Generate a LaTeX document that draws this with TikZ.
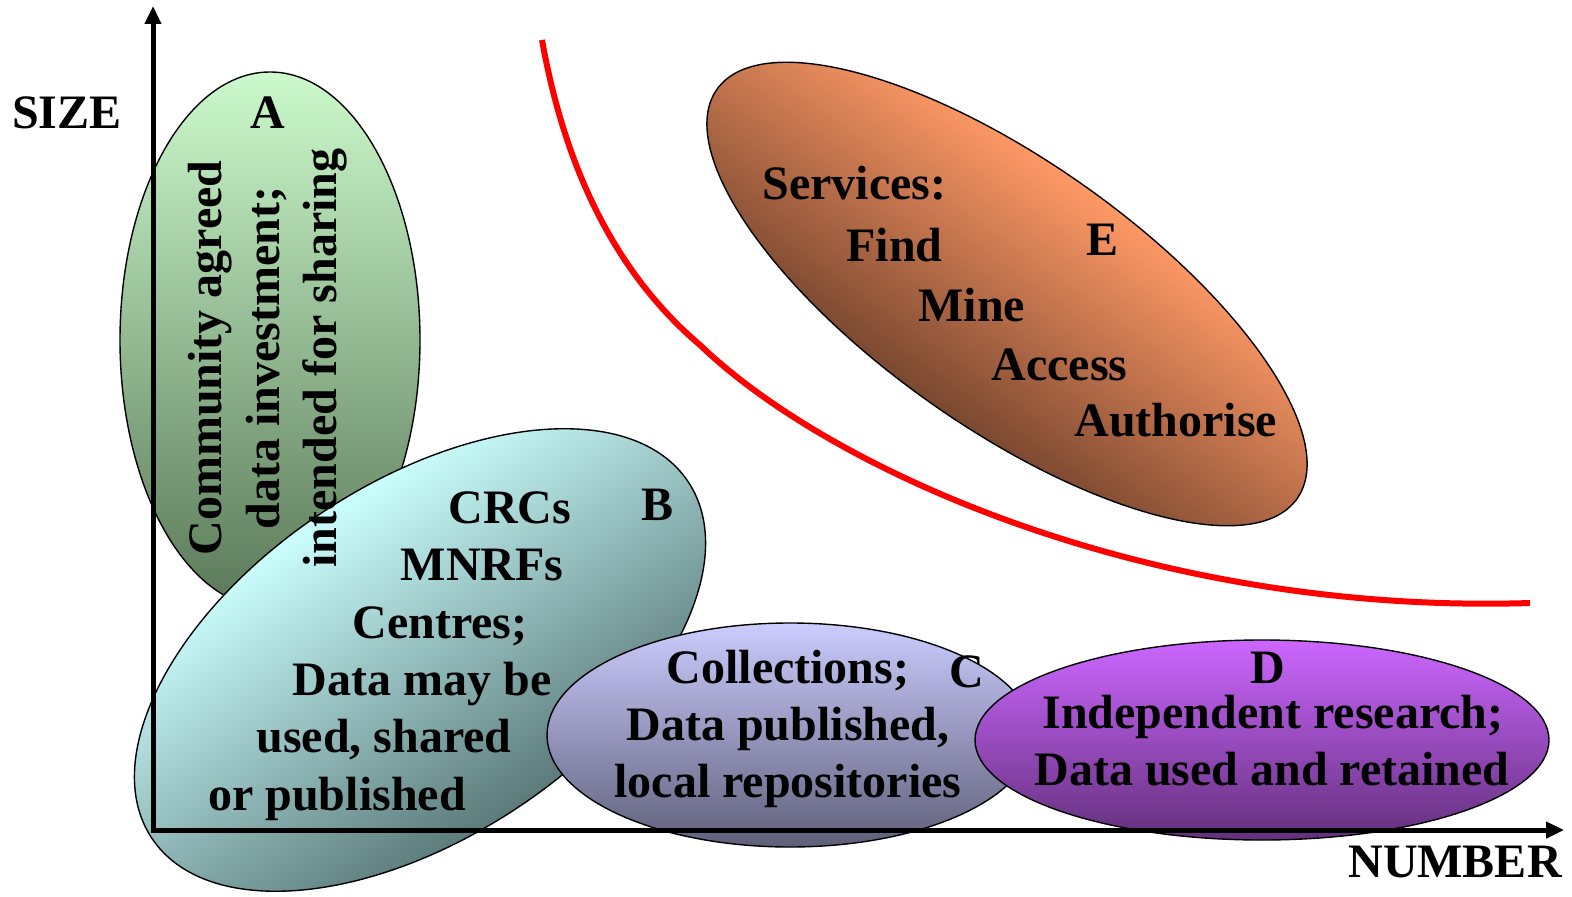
\documentclass[tikz,border=0pt]{standalone}
\usepackage{fontspec}
\setmainfont{Liberation Serif}
\usetikzlibrary{arrows.meta}

\definecolor{aTop}{HTML}{CCFACC}
\definecolor{aBot}{HTML}{5A7858}
\definecolor{bLight}{HTML}{CCFFFF}
\definecolor{bDark}{HTML}{5C7A7A}
\definecolor{cTop}{HTML}{CCCCFF}
\definecolor{cBot}{HTML}{5F5F7A}
\definecolor{dTop}{HTML}{CC66FF}
\definecolor{dBot}{HTML}{63307C}
\definecolor{eLight}{HTML}{FF9966}
\definecolor{eDark}{HTML}{7A4830}

\begin{document}
\begin{tikzpicture}[x=0.5pt,y=-0.5pt,
  lbl/.style={font=\fontsize{24pt}{28.75pt}\selectfont\bfseries, inner sep=0pt},
  blob/.style={draw=black, line width=0.7pt},
  axisline/.style={line width=2.5pt, line join=miter,
    {Triangle[length=9pt,width=8pt]}-{Triangle[length=9pt,width=8pt]}},
  frontier/.style={draw=red, line width=3pt}]
\useasboundingbox (0,0) rectangle (1572,897);

% A: upright ellipse, vertical gradient
\shade[blob, top color=aTop, bottom color=aBot] (270,340) ellipse (150 and 268);

% B: ellipse tilted 33.6 degrees; gradient runs across its short axis
\begin{scope}[transform canvas={rotate around={33.6:(420,660)}}]
  \shade[blob, top color=bLight, bottom color=bDark] (420,660) ellipse (322 and 177);
\end{scope}

% C and D: upright ellipses along the bottom
\shade[blob, top color=cTop, bottom color=cBot] (790,735) ellipse (243 and 112);
\shade[blob, top color=dTop, bottom color=dBot] (1262,740) ellipse (287 and 100);

% E: ellipse tilted -35.2 degrees; light upper-right, dark lower-left
\begin{scope}[transform canvas={rotate around={-35.2:(1007,294)}}]
  \shade[blob, top color=eLight, middle color=eLight!62!eDark, bottom color=eDark]
    (1007,294) ellipse (355 and 133);
\end{scope}

% frontier curve
\draw[frontier] (542,40) .. controls (560,140) and (600,260) .. (700,345)
  .. controls (830,470) and (1150,615) .. (1530,603);

% axes
\coordinate (o) at (153,830);
\coordinate (ytip) at (153,6);
\coordinate (xtip) at (1564,830);
\draw[axisline] (ytip) -- (o) -- (xtip);

\node[lbl] (size) at (67,113) {SIZE};
\node[lbl] (number) at (1455,862) {NUMBER};

% A
\node[lbl] (la) at (268,113) {A};
\node[lbl, rotate=90, align=center] (atext) at (268,358)
  {Community agreed\\data investment;\\intended for sharing};

% B
\node[lbl] (lb) at (657,505) {B};
\node[lbl, anchor=base] (b1) at (510,523) {CRCs};
\node[lbl, anchor=base] (b2) at (482,580) {MNRFs};
\node[lbl, anchor=base] (b3) at (440,638) {Centres;};
\node[lbl, anchor=base] (b4) at (422,695) {Data may be};
\node[lbl, anchor=base] (b5) at (384,752) {used, shared};
\node[lbl, anchor=base] (b6) at (337,810) {or published};

% C
\node[lbl] (lc) at (967,672) {C};
\node[lbl, anchor=base] (c1) at (788,683) {Collections;};
\node[lbl, anchor=base] (c2) at (788,740) {Data published,};
\node[lbl, anchor=base] (c3) at (788,797) {local repositories};

% D
\node[lbl] (ld) at (1268,668) {D};
\node[lbl, anchor=base] (d1) at (1273,728) {Independent research;};
\node[lbl, anchor=base] (d2) at (1272,785) {Data used and retained};

% E
\node[lbl] (le) at (1102,240) {E};
\node[lbl, anchor=base west] (e1) at (762,200) {Services:};
\node[lbl, anchor=base west] (e2) at (846,262) {Find};
\node[lbl, anchor=base west] (e3) at (918,322) {Mine};
\node[lbl, anchor=base west] (e4) at (991,381) {Access};
\node[lbl, anchor=base west] (e5) at (1074,437) {Authorise};
\end{tikzpicture}
\end{document}
